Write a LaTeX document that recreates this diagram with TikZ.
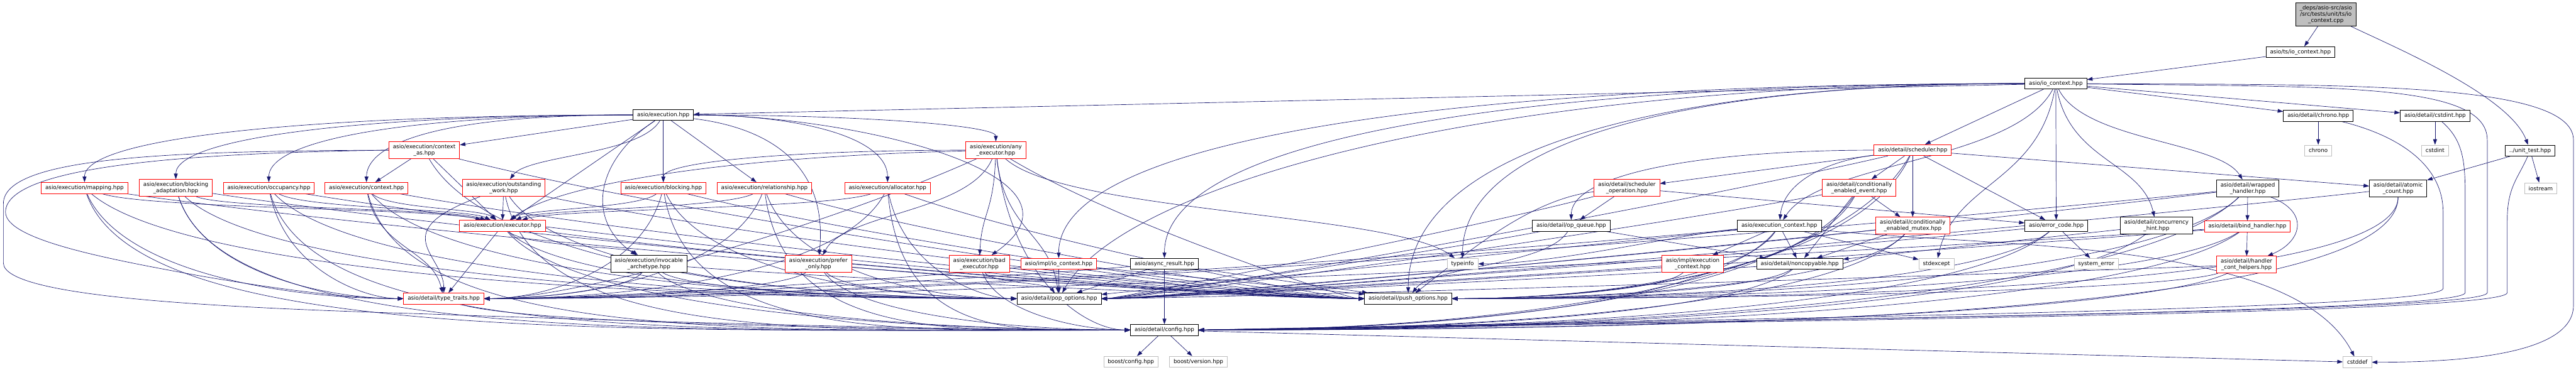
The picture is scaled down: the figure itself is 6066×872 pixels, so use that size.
\documentclass[tikz,border=0pt]{standalone}
\usepackage{fontspec}
\setmainfont{DejaVu Sans}
\usetikzlibrary{arrows.meta,calc}
\definecolor{edgeblue}{HTML}{191970}
\definecolor{sysgray}{HTML}{BFBFBF}
\pgfdeclarelayer{bgfill}
\pgfdeclarelayer{edgelayer}
\pgfsetlayers{bgfill,edgelayer,main}
\tikzset{
 nb/.style={draw=black, fill=white, line width=1.2pt, rectangle, inner xsep=9.5pt, inner ysep=6pt, minimum height=26pt, align=center, font=\fontsize{13}{15}\selectfont, text=black},
 nr/.style={nb, draw=red},
 ng/.style={nb, draw=sysgray},
 nroot/.style={nb, fill=sysgray},
 lnk/.style={draw=edgeblue, line width=1pt, -{Triangle[length=13pt,width=9pt]}},
}
\newcommand\cnE[6]{\draw[lnk] let \p1=(#5), \p2=(#6) in (#5) .. controls ({\x1+#1*(\x2-\x1)},{\y1+#2*(\y2-\y1)}) and ({\x2+#3*(\x1-\x2)},{\y2+#4*(\y1-\y2)}) .. (#6);}
\newcommand\cnL[2]{\draw[lnk] (#1) -- (#2);}
\newcommand\cnT[2]{\cnE{0.15}{0.55}{0.15}{0.45}{#1}{#2}}
\newcommand\cnH[2]{\cnE{0.6}{0}{0}{0.7}{#1}{#2}}
\newcommand\cnS[2]{\cnE{0.1}{0.75}{0.45}{0}{#1}{#2}}
\newcommand\cnW[2]{\cnE{0.3}{0.5}{0.25}{0}{#1}{#2}}
\newcommand\cnD[2]{\cnE{0}{0.85}{0.5}{0}{#1}{#2}}
\newcommand\cnPL[2]{\cnE{0.3}{0.5}{0.15}{0}{#1}{#2}}
\newcommand\cnPR[2]{\cnE{0.3}{0.4}{0.1}{0}{#1}{#2}}
\newcommand\cnCL[2]{\cnE{0.05}{1.1}{0.5}{0}{#1}{#2}}
\begin{document}
\begin{tikzpicture}[x=1pt,y=-1pt]
\useasboundingbox (0,0) rectangle (6066,872);
\begin{pgfonlayer}{bgfill}
\fill[white] (0,0) rectangle (6066,872);
\end{pgfonlayer}
% ---------- nodes ----------
\node[nroot] (root) at (5477,34) {\_deps/asio-src/asio\\/src/tests/unit/ts/io\\\_context.cpp};
\node[nb] (tsio) at (5417,123) {asio/ts/io\_context.hpp};
\node[nb] (unit) at (5958,355) {../unit\_test.hpp};
\node[nb] (ioc) at (4841,197) {asio/io\_context.hpp};
\node[nb] (exe) at (1562,271) {asio/execution.hpp};
\node[nr] (ctxas) at (999,354) {asio/execution/context\\\_as.hpp};
\node[nr] (mapping) at (199,443) {asio/execution/mapping.hpp};
\node[nr] (blkad) at (414,443) {asio/execution/blocking\\\_adaptation.hpp};
\node[nr] (occ) at (633,443) {asio/execution/occupancy.hpp};
\node[nr] (ctx) at (863,443) {asio/execution/context.hpp};
\node[nr] (outw) at (1186,443) {asio/execution/outstanding\\\_work.hpp};
\node[nr] (blk) at (1562,443) {asio/execution/blocking.hpp};
\node[nr] (rel) at (1800,443) {asio/execution/relationship.hpp};
\node[nr] (alloc) at (2090,443) {asio/execution/allocator.hpp};
\node[nr] (anyex) at (2345,354) {asio/execution/any\\\_executor.hpp};
\node[nr] (exec) at (1183,532) {asio/execution/executor.hpp};
\node[nb] (invarch) at (1528,622) {asio/execution/invocable\\\_archetype.hpp};
\node[nr] (prefonly) at (1927,622) {asio/execution/prefer\\\_only.hpp};
\node[nr] (badex) at (2306,622) {asio/execution/bad\\\_executor.hpp};
\node[nr] (tt) at (1045,704) {asio/detail/type\_traits.hpp};
\node[nr] (implioc) at (2493,622) {asio/impl/io\_context.hpp};
\node[nb] (asyncres) at (2742,622) {asio/async\_result.hpp};
\node[nb] (pop) at (2494,704) {asio/detail/pop\_options.hpp};
\node[nb] (config) at (2742,778) {asio/detail/config.hpp};
\node[ng] (bconfig) at (2663,853) {boost/config.hpp};
\node[ng] (bversion) at (2822,853) {boost/version.hpp};
\node[nr] (schedop) at (3831,443) {asio/detail/scheduler\\\_operation.hpp};
\node[nb] (opq) at (3700,532) {asio/detail/op\_queue.hpp};
\node[ng] (typeinfo) at (3444,622) {typeinfo};
\node[nb] (push) at (3316,704) {asio/detail/push\_options.hpp};
\node[nr] (implec) at (3986,622) {asio/impl/execution\\\_context.hpp};
\node[nr] (sched) at (4504,354) {asio/detail/scheduler.hpp};
\node[nr] (cevent) at (4378,443) {asio/detail/conditionally\\\_enabled\_event.hpp};
\node[nb] (ectx) at (4190,532) {asio/execution\_context.hpp};
\node[nr] (cmutex) at (4504,532) {asio/detail/conditionally\\\_enabled\_mutex.hpp};
\node[nb] (errc) at (4842,532) {asio/error\_code.hpp};
\node[nb] (conc) at (5078,532) {asio/detail/concurrency\\\_hint.hpp};
\node[nb] (noncopy) at (4238,622) {asio/detail/noncopyable.hpp};
\node[ng] (stdexcept) at (4560,622) {stdexcept};
\node[ng] (syserr) at (4936,622) {system\_error};
\node[nb] (chronoh) at (5459,273) {asio/detail/chrono.hpp};
\node[nb] (cstdinth) at (5734,273) {asio/detail/cstdint.hpp};
\node[ng] (chrono) at (5459,355) {chrono};
\node[ng] (cstdint) at (5734,355) {cstdint};
\node[nb] (wrapped) at (5293,444) {asio/detail/wrapped\\\_handler.hpp};
\node[nb] (atomic) at (5647,444) {asio/detail/atomic\\\_count.hpp};
\node[ng] (iostream) at (5983,444) {iostream};
\node[nr] (bind) at (5292,534) {asio/detail/bind\_handler.hpp};
\node[nr] (hcont) at (5290,624) {asio/detail/handler\\\_cont\_helpers.hpp};
\node[ng] (cstddef) at (5551,854) {cstddef};
% ---------- edges ----------
\begin{pgfonlayer}{edgelayer}
\cnL{root}{tsio}
\cnE{0.35}{0.25}{0.1}{0.4}{root}{unit}
\cnL{tsio}{ioc}
\cnL{unit}{atomic}
\cnL{unit}{iostream}
\draw[lnk] (unit) .. controls (5930,420) and (5904,440) .. (5904,520) -- (5904,690) .. controls (5904,738) and (4300,756) .. (config.east);
% io_context
\cnL{ioc}{exe}
\cnL{ioc}{sched}
\cnL{ioc}{errc}
\cnT{ioc}{ectx}
\cnT{ioc}{stdexcept}
\cnH{ioc}{typeinfo}
\cnH{ioc}{asyncres}
\cnH{ioc}{implioc}
\cnH{ioc}{push}
\cnE{0.6}{0}{0.06}{0.5}{ioc}{pop}
\cnL{ioc}{chronoh}
\cnL{ioc}{cstdinth}
\cnT{ioc}{wrapped}
\cnT{ioc}{conc}
\draw[lnk] (ioc) .. controls (5500,205) and (5857,195) .. (5857,330) -- (5857,690) .. controls (5857,735) and (4300,752) .. (config.east);
\draw[lnk] (ioc) .. controls (5500,200) and (6060,190) .. (6060,330) -- (6060,720) .. controls (6060,835) and (5800,854) .. (cstddef.east);
% execution.hpp
\cnL{exe}{ctxas}
\cnH{exe}{mapping}
\cnH{exe}{blkad}
\cnH{exe}{occ}
\cnE{0.85}{0}{0}{0.5}{exe}{ctx}
\cnT{exe}{outw}
\cnL{exe}{exec}
\cnL{exe}{blk}
\cnL{exe}{rel}
\cnH{exe}{alloc}
\cnH{exe}{anyex}
\draw[lnk] (exe) .. controls (1400,380) and (1380,520) .. (invarch);
\draw[lnk] (exe) .. controls (1800,300) and (1950,380) .. (prefonly);
\draw[lnk] (exe) .. controls (2008,271) and (2604,411) .. (badex);
% context_as
\cnL{ctxas}{ctx}
\cnL{ctxas}{exec}
\draw[lnk] (ctxas.west) .. controls (500,360) and (13,385) .. (13,500) .. controls (13,565) and (250,610) .. (469,650) .. controls (700,690) and (850,704) .. (tt.west);
\draw[lnk] (ctxas.west) .. controls (400,356) and (8,370) .. (8,480) -- (8,620) .. controls (8,700) and (500,725) .. (1000,740) .. controls (1700,765) and (2300,778) .. (config.west);
\cnPL{ctxas}{push}
\cnS{ctxas}{pop}
% execution siblings
\foreach \s in {mapping,blkad,occ} {\cnT{\s}{exec} \cnS{\s}{tt} \cnCL{\s}{config} \cnPL{\s}{push} \cnS{\s}{pop}}
\cnT{ctx}{exec} \cnT{ctx}{tt} \cnCL{ctx}{config} \cnPL{ctx}{push} \cnS{ctx}{pop}
\cnL{outw}{exec} \cnE{2}{0.4}{0}{0.4}{outw}{tt} \cnCL{outw}{config} \cnPL{outw}{push} \cnS{outw}{pop}
\foreach \s in {blk,rel,alloc} {\cnT{\s}{exec} \cnS{\s}{tt} \cnCL{\s}{config} \cnPL{\s}{push} \cnS{\s}{pop}}
% any_executor
\cnT{anyex}{badex}
\cnH{anyex}{blk}
\cnE{0.6}{0.1}{0.1}{0.5}{anyex}{exec}
\cnT{anyex}{prefonly}
\cnT{anyex}{typeinfo}
\cnW{anyex}{tt}
\cnS{anyex}{config}
\cnPL{anyex}{push}
\cnT{anyex}{pop}
% executor
\cnT{exec}{invarch}
\cnL{exec}{tt}
\cnS{exec}{config}
\cnPL{exec}{push}
\cnS{exec}{pop}
\foreach \s in {invarch,prefonly} {\cnS{\s}{tt} \cnS{\s}{config} \cnPL{\s}{push} \cnS{\s}{pop}}
\cnS{badex}{config} \cnPL{badex}{push} \cnT{badex}{pop}
\cnW{implioc}{tt} \cnL{implioc}{push} \cnL{implioc}{pop}
\cnL{asyncres}{config} \cnL{asyncres}{pop} \cnW{asyncres}{tt} \cnL{asyncres}{push}
\cnS{tt}{config}
\cnL{config}{bconfig} \cnL{config}{bversion} \cnL{config}{cstddef}
% scheduler
\cnL{sched}{cevent} \cnL{sched}{cmutex} \cnL{sched}{errc}
\draw[lnk] (sched) .. controls (4300,380) and (4200,430) .. (ectx);
\cnL{sched}{schedop} \cnH{sched}{opq} \cnL{sched}{atomic}
\cnS{sched}{config} \cnS{sched}{push} \cnPR{sched}{pop}
\cnL{schedop}{opq} \cnL{schedop}{errc}
\draw[lnk] (schedop) .. controls (3600,470) and (3450,600) .. (push);
\cnPR{schedop}{pop}
\cnL{opq}{noncopy} \cnT{opq}{push} \cnPR{opq}{pop}
\cnL{cevent}{cmutex} \cnL{cevent}{noncopy} \cnS{cevent}{config} \cnS{cevent}{push} \cnPR{cevent}{pop}
\cnL{cmutex}{noncopy} \cnS{cmutex}{config} \cnS{cmutex}{push} \cnPR{cmutex}{pop}
% execution_context
\cnL{ectx}{noncopy} \cnL{ectx}{stdexcept} \cnL{ectx}{implec}
\cnE{0.3}{0.2}{0.3}{0}{ectx}{typeinfo}
\cnW{ectx}{tt} \cnS{ectx}{config} \cnS{ectx}{push} \cnL{ectx}{pop}
\draw[lnk] (ectx) .. controls (4700,585) and (5400,560) .. (cstddef);
\cnS{implec}{push} \cnPR{implec}{pop}
\cnL{errc}{syserr} \cnS{errc}{config} \cnS{errc}{push} \cnPR{errc}{pop}
\cnL{conc}{noncopy} \cnS{conc}{config}
\cnS{noncopy}{config} \cnS{noncopy}{push} \cnPR{noncopy}{pop}
% chrono / cstdint
\cnL{chronoh}{chrono} \cnL{cstdinth}{cstdint}
\draw[lnk] (chronoh) .. controls (5650,320) and (5753,390) .. (5753,500) -- (5753,680) .. controls (5753,728) and (4300,748) .. (config.east);
\draw[lnk] (cstdinth) .. controls (5800,330) and (5805,380) .. (5805,460) -- (5805,690) .. controls (5805,735) and (4300,752) .. (config.east);
% handlers
\cnL{wrapped}{bind}
\draw[lnk] (wrapped) .. controls (5440,500) and (5420,570) .. (hcont);
\cnW{wrapped}{tt} \cnS{wrapped}{config} \cnS{wrapped}{push} \cnPR{wrapped}{pop}
\cnL{bind}{hcont} \cnW{bind}{tt} \cnS{bind}{config} \cnS{bind}{push} \cnPR{bind}{pop}
\cnS{hcont}{config} \cnS{hcont}{push} \cnPR{hcont}{pop}
\cnD{atomic}{config} \cnD{atomic}{push} \cnPR{atomic}{pop}
\end{pgfonlayer}
\end{tikzpicture}
\end{document}
